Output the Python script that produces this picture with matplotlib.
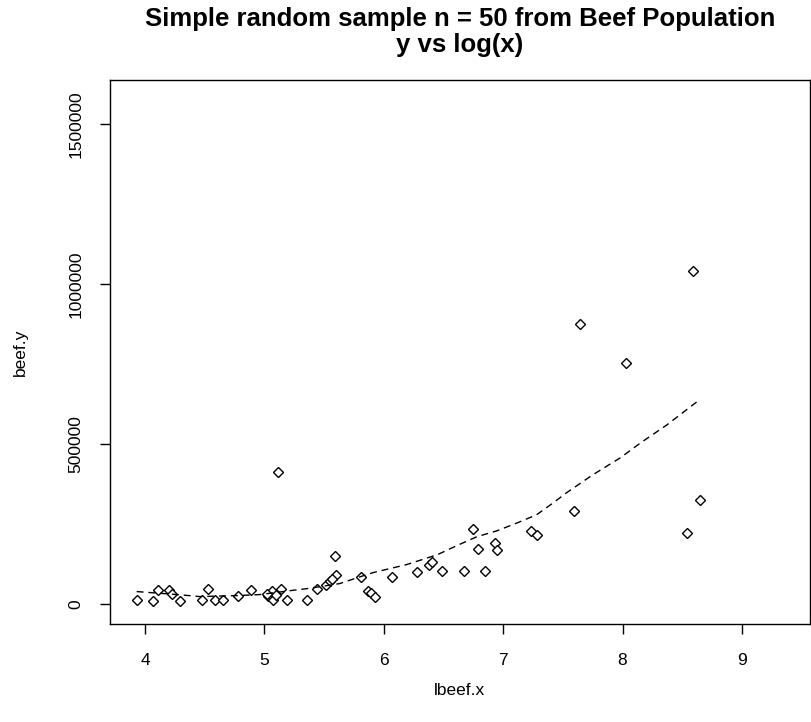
import matplotlib
matplotlib.use('Agg')
import matplotlib.pyplot as plt
from matplotlib.ticker import FixedLocator, FuncFormatter

# sample points
lbeef_x = [3.93, 4.07, 4.11, 4.20, 4.23, 4.29, 4.48, 4.53, 4.59, 4.65,
           4.78, 4.89, 5.03, 5.06, 5.07, 5.10, 5.14, 5.19, 5.36, 5.44,
           5.52, 5.55, 5.60, 5.59, 5.11, 5.81, 5.87, 5.89, 5.93, 6.07,
           6.28, 6.38, 6.40, 6.49, 6.67, 6.75, 6.79, 6.85, 6.93, 6.95,
           7.23, 7.28, 7.59, 7.64, 8.03, 8.54, 8.59, 8.65, 5.57, 5.02]
beef_y = [13400, 8100, 42400, 42400, 32100, 8100, 13400, 46800, 13400, 13400,
          25900, 42400, 23700, 39300, 13400, 29000, 46800, 13400, 13400, 46800,
          60200, 70500, 91400, 148500, 413600, 83000, 39300, 34300, 20600, 83000,
          99800, 122600, 131000, 103900, 103900, 233900, 172500, 103900, 190300, 169400,
          228600, 215200, 288800, 874200, 751700, 221400, 1039600, 325300, 78000, 30000]

# fitted curve (dashed)
fit_x = [3.93, 4.27, 4.46, 4.78, 4.96, 5.24, 5.36, 5.63, 5.78, 5.91, 6.19, 6.45,
         6.61, 6.78, 6.95, 7.12, 7.28, 7.42, 7.53, 7.75, 7.98, 8.15, 8.37, 8.62]
fit_y = [38400, 29000, 22800, 25900, 29000, 42400, 47700, 63300, 82000, 97600,
         122600, 153800, 181800, 209900, 228600, 253600, 278500, 316000, 347200,
         403300, 456300, 503100, 559200, 631000]

x_ticks = [4, 5, 6, 7, 8, 9]
y_ticks = [0, 500000, 1000000, 1500000]

plt.rcParams['font.family'] = ['Liberation Sans', 'DejaVu Sans']

fig = plt.figure(figsize=(8.12, 7.22), dpi=100)
ax = fig.add_axes([110 / 812, 98 / 722, 700 / 812, 544 / 722])

ax.plot(lbeef_x, beef_y, linestyle='none', marker='D', markersize=5.4,
        markerfacecolor='white', markeredgecolor='black', markeredgewidth=1.0)
ax.plot(fit_x, fit_y, color='black', linewidth=1.0, dashes=(5, 3.5))

ax.set_xlim(3.707, 9.57)
ax.set_ylim(-63000, 1638000)

ax.xaxis.set_major_locator(FixedLocator(x_ticks))
ax.yaxis.set_major_locator(FixedLocator(y_ticks))
ax.yaxis.set_major_formatter(FuncFormatter(lambda v, p: f'{int(v)}'))
ax.tick_params(axis='both', direction='out', length=7, width=1, labelsize=12.5,
               colors='black')
ax.tick_params(axis='x', pad=14)
ax.tick_params(axis='y', pad=12)
for lbl in ax.get_yticklabels():
    lbl.set_rotation(90)
    lbl.set_va('center')

for s in ax.spines.values():
    s.set_linewidth(1.0)
    s.set_color('black')

ax.set_xlabel('lbeef.x', fontsize=12.5, labelpad=11)
ax.set_ylabel('beef.y', fontsize=12.5, labelpad=29)
ax.set_title('Simple random sample n = 50 from Beef Population\ny vs log(x)',
             fontsize=18.5, fontweight='bold', linespacing=1.12, pad=20)

fig.savefig('out.png', dpi=100)
